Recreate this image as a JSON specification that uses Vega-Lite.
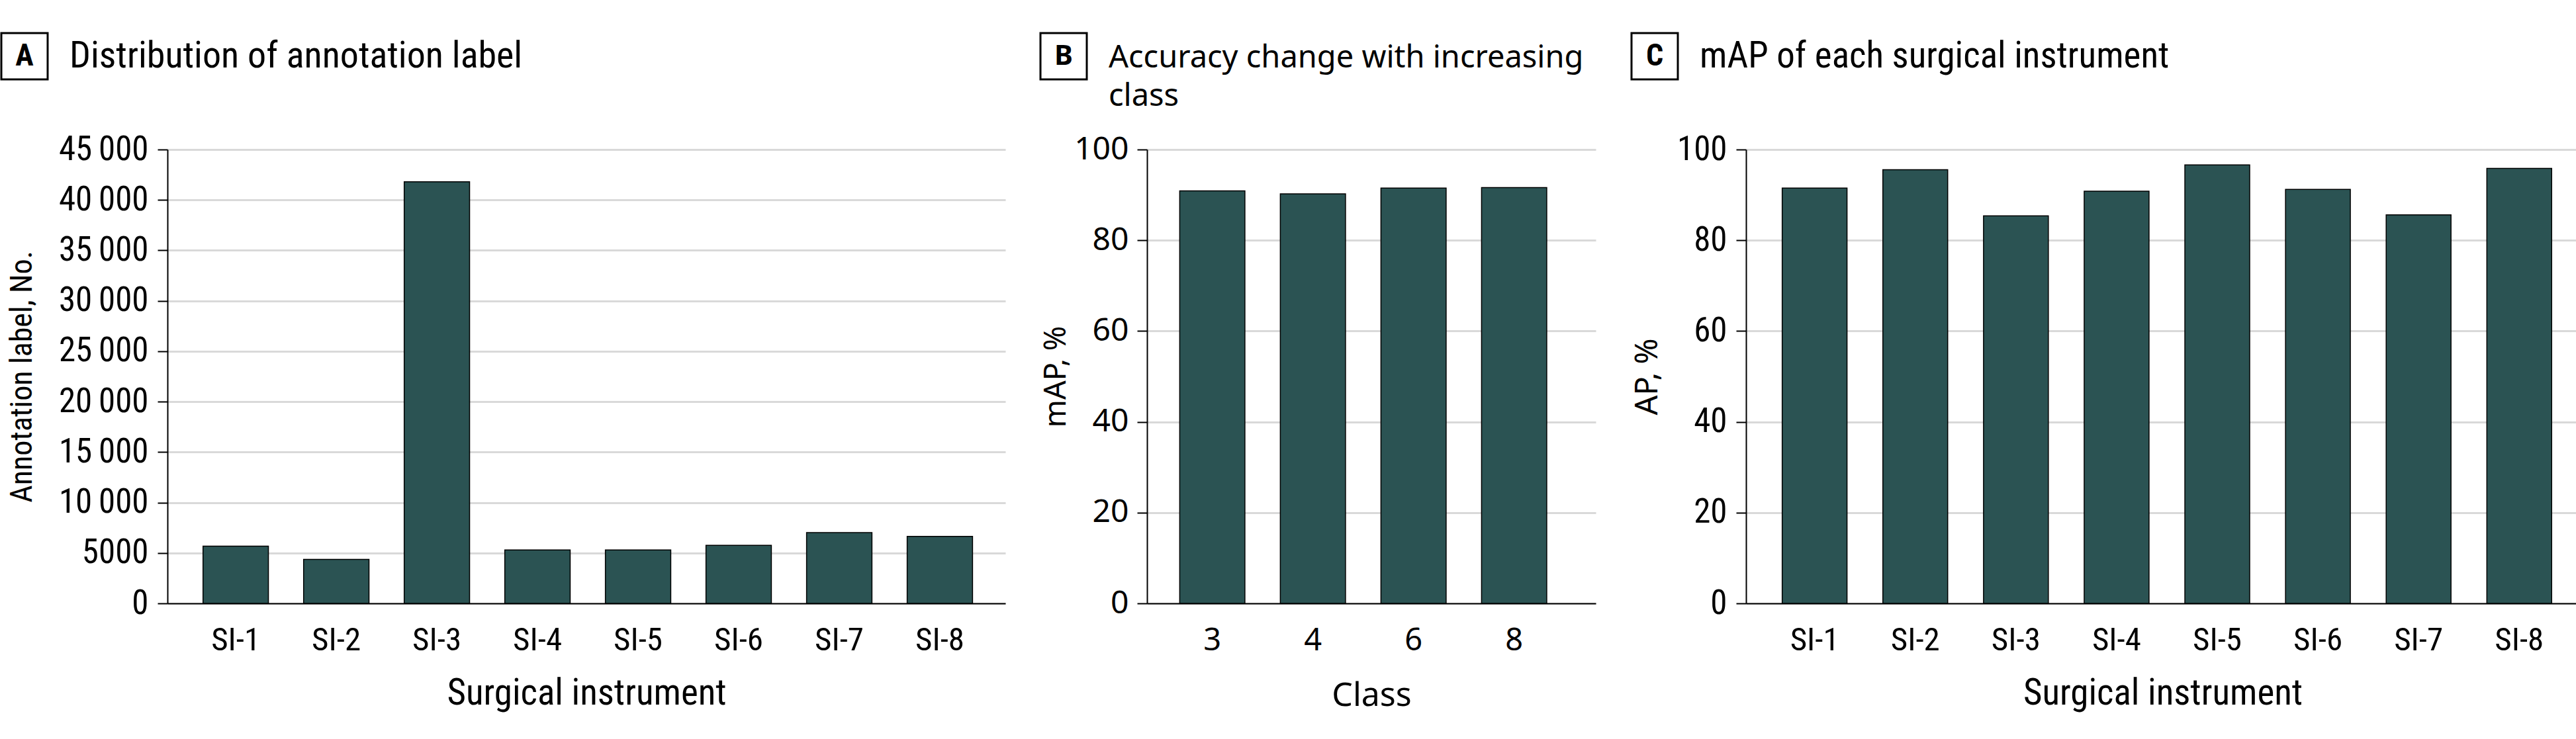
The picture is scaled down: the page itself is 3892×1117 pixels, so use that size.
{
  "$schema": "https://vega.github.io/schema/vega-lite/v6.json",
  "padding": {"left": 0, "top": 48, "right": 0, "bottom": 20},
  "background": "white",
  "spacing": 31,
  "config": {
    "view": {"stroke": null},
    "axis": {"domainColor": "black", "domainWidth": 2, "tickColor": "black", "tickWidth": 2, "gridColor": "#d9d9d9", "gridWidth": 3, "labelColor": "black", "titleColor": "black", "titleFontWeight": "normal"},
    "text": {"color": "black"}
  },
  "datasets": {
    "annot": [
      {"instrument": "SI-1", "count": 5670},
      {"instrument": "SI-2", "count": 4360},
      {"instrument": "SI-3", "count": 41800},
      {"instrument": "SI-4", "count": 5290},
      {"instrument": "SI-5", "count": 5290},
      {"instrument": "SI-6", "count": 5760},
      {"instrument": "SI-7", "count": 7020},
      {"instrument": "SI-8", "count": 6640}
    ],
    "classacc": [
      {"cls": "3", "map": 90.9},
      {"cls": "4", "map": 90.25},
      {"cls": "6", "map": 91.5},
      {"cls": "8", "map": 91.6}
    ],
    "ap": [
      {"instrument": "SI-1", "ap": 91.5},
      {"instrument": "SI-2", "ap": 95.55},
      {"instrument": "SI-3", "ap": 85.4},
      {"instrument": "SI-4", "ap": 90.8},
      {"instrument": "SI-5", "ap": 96.6},
      {"instrument": "SI-6", "ap": 91.2},
      {"instrument": "SI-7", "ap": 85.6},
      {"instrument": "SI-8", "ap": 95.85}
    ]
  },
  "vconcat": [
    {
      "bounds": "flush",
      "spacing": 32,
      "hconcat": [
        {"width": 70, "height": 70, "view": {"stroke": "black", "strokeWidth": 3},
         "data": {"values": [{"t": "A"}]},
         "mark": {"type": "text", "font": "Liberation Sans Narrow, Roboto Condensed, DejaVu Sans Condensed, Liberation Sans", "fontSize": 46, "fontWeight": "bold", "baseline": "middle", "align": "center"},
         "encoding": {"text": {"field": "t"}}},
        {"width": 2, "height": 70,
         "data": {"values": [{"t": "Distribution of annotation label"}]},
         "mark": {"type": "text", "font": "Liberation Sans Narrow, Roboto Condensed, DejaVu Sans Condensed, Liberation Sans", "fontSize": 56, "align": "left", "baseline": "alphabetic", "dy": 17},
         "encoding": {"text": {"field": "t"}}},
        {"width": 1402, "height": 70,
         "data": {"values": [{"t": ""}]},
         "mark": {"type": "text"},
         "encoding": {"text": {"field": "t"}}},
        {"width": 70, "height": 70, "view": {"stroke": "black", "strokeWidth": 3},
         "data": {"values": [{"t": "B"}]},
         "mark": {"type": "text", "font": "Noto Sans", "fontSize": 42, "fontWeight": "bold", "baseline": "middle", "align": "center"},
         "encoding": {"text": {"field": "t"}}},
        {"width": 2, "height": 70,
         "data": {"values": [{"t": "Accuracy change with increasing\nclass"}]},
         "mark": {"type": "text", "font": "Noto Sans", "fontSize": 47, "align": "left", "baseline": "alphabetic", "dy": 17, "lineBreak": "\n", "lineHeight": 58},
         "encoding": {"text": {"field": "t"}}},
        {"width": 725, "height": 70,
         "data": {"values": [{"t": ""}]},
         "mark": {"type": "text"},
         "encoding": {"text": {"field": "t"}}},
        {"width": 70, "height": 70, "view": {"stroke": "black", "strokeWidth": 3},
         "data": {"values": [{"t": "C"}]},
         "mark": {"type": "text", "font": "Liberation Sans Narrow, Roboto Condensed, DejaVu Sans Condensed, Liberation Sans", "fontSize": 46, "fontWeight": "bold", "baseline": "middle", "align": "center"},
         "encoding": {"text": {"field": "t"}}},
        {"width": 2, "height": 70,
         "data": {"values": [{"t": "mAP of each surgical instrument"}]},
         "mark": {"type": "text", "font": "Liberation Sans Narrow, Roboto Condensed, DejaVu Sans Condensed, Liberation Sans", "fontSize": 55, "align": "left", "baseline": "alphabetic", "dy": 17},
         "encoding": {"text": {"field": "t"}}}
      ]
    },
    {
      "spacing": 0,
      "hconcat": [
        {"width": 8, "height": 1,
         "data": {"values": [{"t": ""}]},
         "mark": {"type": "text"},
         "encoding": {"text": {"field": "t"}}},
        {
          "spacing": 54,
          "hconcat": [
            {
              "width": 1266, "height": 686,
              "data": {"name": "annot"},
              "mark": {"type": "bar", "color": "#2b5353", "stroke": "black", "strokeWidth": 1.5},
              "encoding": {
                "x": {"field": "instrument", "type": "nominal", "sort": null,
                      "scale": {"paddingInner": 0.35, "paddingOuter": 0.34, "align": 0.52},
                      "axis": {"title": "Surgical instrument", "labelAngle": 0, "ticks": false, "tickSize": 0, "labelPadding": 31, "labelFont": "Liberation Sans Narrow, Roboto Condensed, DejaVu Sans Condensed, Liberation Sans", "labelFontSize": 49, "titleFont": "Liberation Sans Narrow, Roboto Condensed, DejaVu Sans Condensed, Liberation Sans", "titleFontSize": 55, "titlePadding": 29, "grid": false}},
                "y": {"field": "count", "type": "quantitative", "scale": {"domain": [0, 45000], "nice": false},
                      "axis": {"title": "Annotation label, No.", "values": [0, 5000, 10000, 15000, 20000, 25000, 30000, 35000, 40000, 45000],
                               "labelExpr": "datum.value >= 10000 ? replace(format(datum.value, ','), ',', '\u2009') : format(datum.value, 'd')",
                               "tickSize": 15, "labelPadding": 14, "labelFont": "Liberation Sans Narrow, Roboto Condensed, DejaVu Sans Condensed, Liberation Sans", "labelFontSize": 51,
                               "titleFont": "Liberation Sans Narrow, Roboto Condensed, DejaVu Sans Condensed, Liberation Sans", "titleFontSize": 46, "minExtent": 170, "maxExtent": 170, "titlePadding": 26, "grid": true}}
              }
            },
            {
              "width": 678, "height": 686,
              "data": {"name": "classacc"},
              "mark": {"type": "bar", "color": "#2b5353", "stroke": "black", "strokeWidth": 1.5},
              "encoding": {
                "x": {"field": "cls", "type": "nominal", "sort": null,
                      "scale": {"paddingInner": 0.352, "paddingOuter": 0.406, "align": 0.4},
                      "axis": {"title": "Class", "labelAngle": 0, "ticks": false, "tickSize": 0, "labelPadding": 33, "labelFont": "Noto Sans", "labelFontSize": 47, "titleFont": "Noto Sans", "titleFontSize": 50, "titlePadding": 35, "grid": false}},
                "y": {"field": "map", "type": "quantitative", "scale": {"domain": [0, 100], "nice": false},
                      "axis": {"title": "mAP, %", "values": [0, 20, 40, 60, 80, 100],
                               "tickSize": 15, "labelPadding": 13, "labelFont": "Noto Sans", "labelFontSize": 48,
                               "titleFont": "Noto Sans", "titleFontSize": 45, "minExtent": 100, "maxExtent": 100, "titlePadding": 15, "grid": true}}
              }
            },
            {
              "width": 1259, "height": 686,
              "data": {"name": "ap"},
              "mark": {"type": "bar", "color": "#2b5353", "stroke": "black", "strokeWidth": 1.5},
              "encoding": {
                "x": {"field": "instrument", "type": "nominal", "sort": null,
                      "scale": {"paddingInner": 0.356, "paddingOuter": 0.317, "align": 0.567},
                      "axis": {"title": "Surgical instrument", "labelAngle": 0, "ticks": false, "tickSize": 0, "labelPadding": 31, "labelFont": "Liberation Sans Narrow, Roboto Condensed, DejaVu Sans Condensed, Liberation Sans", "labelFontSize": 49, "titleFont": "Liberation Sans Narrow, Roboto Condensed, DejaVu Sans Condensed, Liberation Sans", "titleFontSize": 55, "titlePadding": 29, "grid": false}},
                "y": {"field": "ap", "type": "quantitative", "scale": {"domain": [0, 100], "nice": false},
                      "axis": {"title": "AP, %", "values": [0, 20, 40, 60, 80, 100],
                               "tickSize": 15, "labelPadding": 14, "labelFont": "Liberation Sans Narrow, Roboto Condensed, DejaVu Sans Condensed, Liberation Sans", "labelFontSize": 51,
                               "titleFont": "Noto Sans", "titleFontSize": 47, "minExtent": 90, "maxExtent": 90, "titlePadding": 35, "grid": true}}
              }
            }
          ]
        }
      ]
    }
  ]
}
